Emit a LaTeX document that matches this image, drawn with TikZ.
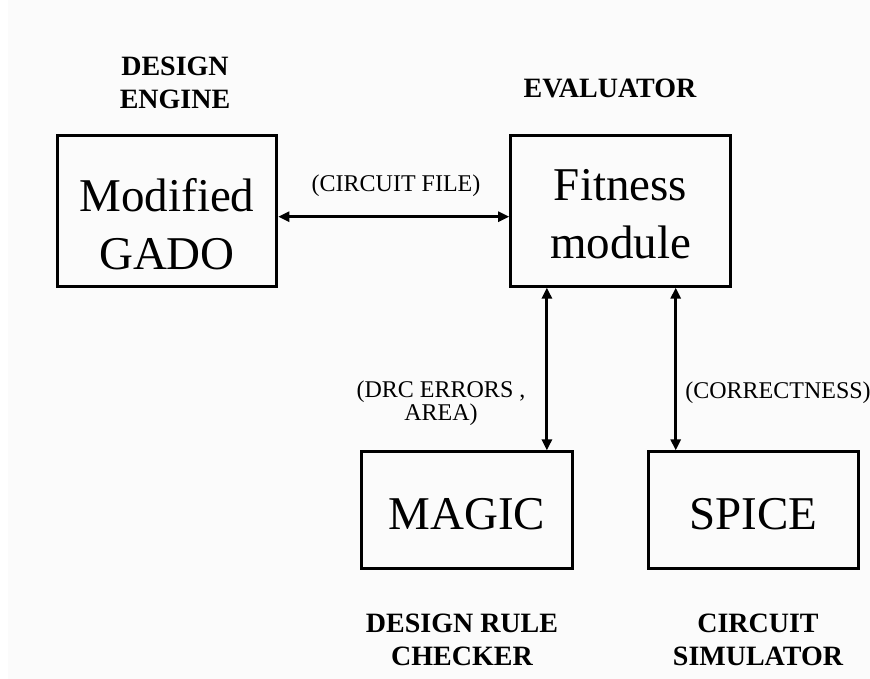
\documentclass[tikz,border=0pt]{standalone}
\usepackage{fontspec}
\setmainfont{Liberation Serif}
\usetikzlibrary{arrows.meta}
\definecolor{paper}{HTML}{FBFBFB}

\begin{document}
\begin{tikzpicture}[x=1pt,y=-1pt,
  block/.style={draw,line width=3pt,inner sep=0pt,align=center,font=\fontsize{47}{58}\selectfont},
  role/.style={align=center,font=\fontsize{28}{33}\selectfont\bfseries},
  flow/.style={align=center,font=\fontsize{24}{21}\selectfont},
  link/.style={{Triangle[length=11pt,width=10pt]}-{Triangle[length=11pt,width=10pt]},line width=3pt}]
\useasboundingbox (0,0) rectangle (870,679);
\fill[paper] (8,0) rectangle (870,679);

% nodes
\node[block,minimum width=219.6pt,minimum height=150.7pt] (gado) at (167,210.8) {\rule{0pt}{60.5pt}Modified\\GADO};
\node[block,minimum width=219.6pt,minimum height=150.7pt] (fitness) at (620.5,210.8) {\rule{0pt}{37pt}Fitness\\module};
\node[block,minimum width=210.6pt,minimum height=116.3pt] (magic) at (467,510) {\rule{0pt}{40pt}MAGIC};
\node[block,minimum width=210.6pt,minimum height=116.3pt] (spice) at (753.6,510) {\rule{0pt}{40pt}SPICE};

\node[role] (engine) at (175,82.6) {DESIGN\\ENGINE};
\node[role] (evaluator) at (610,88.9) {EVALUATOR};
\node[role] (checker) at (462,639.9) {DESIGN RULE\\CHECKER};
\node[role] (simulator) at (758,639.9) {CIRCUIT\\SIMULATOR};

\node[flow] (circuitfile) at (396,185.8) {(CIRCUIT FILE)};
\node[flow] (drc) at (441,403.2) {(DRC ERRORS ,\\AREA)};
\node[flow] (correct) at (778,392.7) {(CORRECTNESS)};

% arrows
\draw[link] ([yshift=-5.9pt]gado.east) -- ([yshift=-5.9pt]fitness.west);
\draw[link] ([xshift=-73.6pt]fitness.south) -- ([xshift=-73.6pt]fitness.south |- magic.north);
\draw[link] ([xshift=55.2pt]fitness.south) -- ([xshift=55.2pt]fitness.south |- spice.north);

\end{tikzpicture}
\end{document}
